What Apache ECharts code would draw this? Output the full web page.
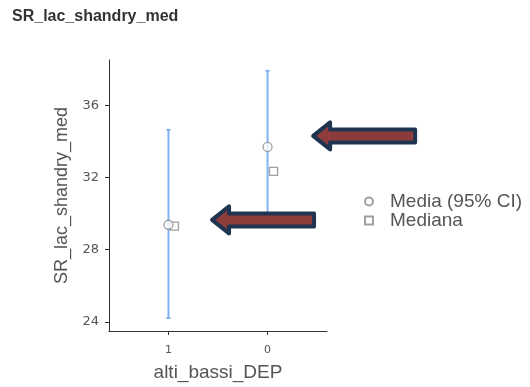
<!DOCTYPE html>
<html>
<head>
<meta charset="utf-8">
<script src="https://cdn.jsdelivr.net/npm/echarts@6/dist/echarts.min.js"></script>
<style>
  html, body { margin: 0; padding: 0; background: #fff; }
  #chart { width: 530px; height: 387px; }
</style>
</head>
<body>
<div id="chart"></div>
<script>
// Group labels in plotting order and their summary statistics
const categories = ['1', '0'];
const means = [29.38, 33.69];
const ciLower = [24.22, 29.48];
const ciUpper = [34.63, 37.90];
const medians = [29.30, 32.33];
const yTicks = [24, 28, 32, 36];
// Annotation arrows: tip location in data space [x position, value]
const arrowTips = [[2.46, 34.3], [1.44, 29.65]];

const FONT = '"Liberation Sans", Arial, sans-serif';
const TICK_FONT = '"DejaVu Sans", sans-serif';
const AXIS_COLOR = '#333';
const xPos = categories.map((c, i) => i + 1);

const chart = echarts.init(document.getElementById('chart'), null, { renderer: 'canvas' });

const option = {
  animation: false,
  backgroundColor: '#fff',
  title: {
    text: 'SR_lac_shandry_med',
    left: 7, top: 4,
    textStyle: { fontFamily: FONT, fontSize: 16, fontWeight: 'bold', color: '#333' }
  },
  grid: { left: 109, top: 60, width: 218, height: 274, containLabel: false },
  xAxis: {
    type: 'value',
    min: 0.4, max: 2.6,
    name: 'alti_bassi_DEP',
    nameLocation: 'middle',
    nameGap: 32,
    nameTextStyle: { fontFamily: FONT, fontSize: 19, color: '#555' },
    axisLine: { show: true, onZero: false, lineStyle: { color: AXIS_COLOR, width: 1 } },
    axisTick: { show: true, length: 4, customValues: xPos, lineStyle: { color: AXIS_COLOR } },
    axisLabel: {
      customValues: xPos,
      formatter: v => categories[Math.round(v) - 1] ?? '',
      fontFamily: TICK_FONT, fontSize: 11, color: '#555', margin: 14
    },
    splitLine: { show: false }
  },
  yAxis: {
    type: 'value',
    min: 23.5, max: 38.5,
    name: 'SR_lac_shandry_med',
    nameLocation: 'middle',
    nameGap: 38,
    nameTextStyle: { fontFamily: FONT, fontSize: 18, color: '#555' },
    axisLine: { show: true, onZero: false, lineStyle: { color: AXIS_COLOR, width: 1 } },
    axisTick: { show: true, length: 4, customValues: yTicks, lineStyle: { color: AXIS_COLOR } },
    axisLabel: {
      customValues: yTicks,
      fontFamily: TICK_FONT, fontSize: 13, color: '#555', margin: 10
    },
    splitLine: { show: false }
  },
  legend: {
    orient: 'vertical',
    left: 359, top: 187,
    itemWidth: 8, itemHeight: 8, itemGap: 0,
    textStyle: { fontFamily: FONT, fontSize: 19, color: '#555', padding: [0, 0, 0, 12] },
    data: ['Media (95% CI)', 'Mediana']
  },
  series: [
    {
      name: 'CI',
      type: 'custom',
      data: xPos.map((x, i) => [x, ciLower[i], ciUpper[i]]),
      renderItem: (params, api) => {
        const lo = api.coord([api.value(0), api.value(1)]);
        const hi = api.coord([api.value(0), api.value(2)]);
        const cap = 2;
        const style = { stroke: '#7FB2F3', lineWidth: 2 };
        return {
          type: 'group',
          children: [
            { type: 'line', shape: { x1: lo[0], y1: lo[1], x2: hi[0], y2: hi[1] }, style },
            { type: 'line', shape: { x1: lo[0] - cap, y1: lo[1], x2: lo[0] + cap, y2: lo[1] }, style },
            { type: 'line', shape: { x1: hi[0] - cap, y1: hi[1], x2: hi[0] + cap, y2: hi[1] }, style }
          ]
        };
      },
      z: 1
    },
    {
      name: 'Mediana',
      type: 'scatter',
      symbol: 'rect',
      symbolSize: 8,
      symbolOffset: [6, 0],
      itemStyle: { color: '#fff', borderColor: '#888', borderWidth: 1.3 },
      data: xPos.map((x, i) => [x, medians[i]]),
      z: 2
    },
    {
      name: 'Media (95% CI)',
      type: 'scatter',
      symbol: 'circle',
      symbolSize: 9,
      itemStyle: { color: '#fff', borderColor: '#888', borderWidth: 1.3 },
      data: xPos.map((x, i) => [x, means[i]]),
      z: 3
    }
  ]
};

chart.setOption(option);

// Left-pointing block arrows anchored at their tips
function arrowShape(tip) {
  const [tx, ty] = tip;
  const headLen = 17, headHalf = 13.5, shaftHalf = 6.5, len = 102;
  return [
    [tx, ty],
    [tx + headLen, ty - headHalf],
    [tx + headLen, ty - shaftHalf],
    [tx + len, ty - shaftHalf],
    [tx + len, ty + shaftHalf],
    [tx + headLen, ty + shaftHalf],
    [tx + headLen, ty + headHalf]
  ];
}

chart.setOption({
  graphic: arrowTips.map(t => ({
    type: 'polygon',
    shape: { points: arrowShape(chart.convertToPixel({ gridIndex: 0 }, t)) },
    style: { fill: '#8E3B3B', stroke: '#1F3451', lineWidth: 4, lineJoin: 'round' },
    z: 100
  }))
});
</script>
</body>
</html>
